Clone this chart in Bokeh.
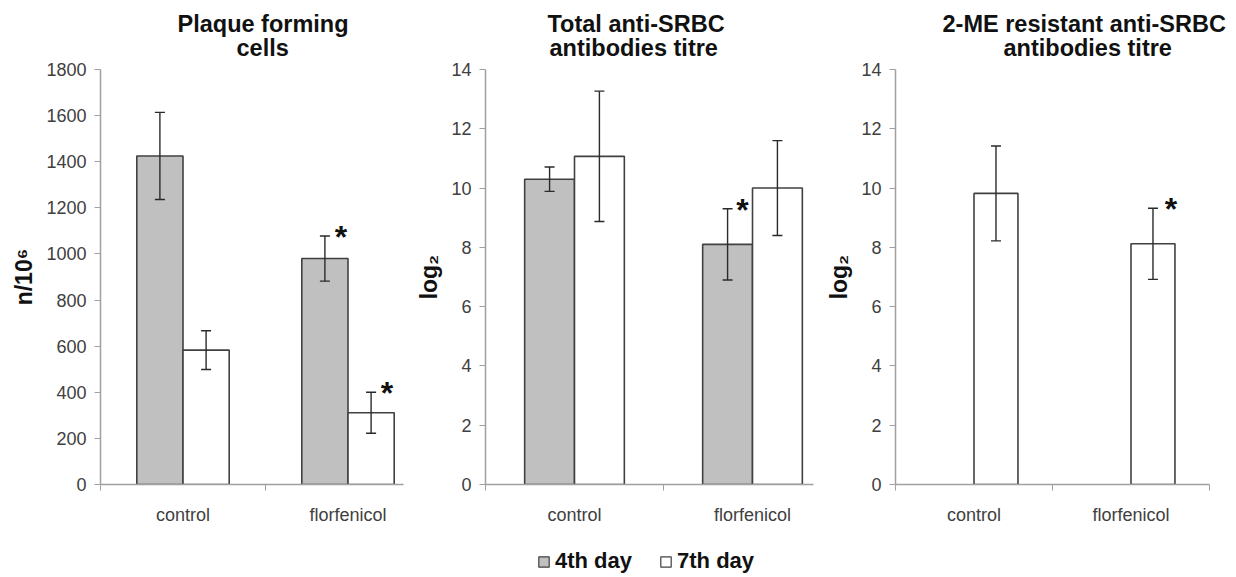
from bokeh.plotting import figure
from bokeh.models import (ColumnDataSource, Whisker, TeeHead, FixedTicker, Range1d,
                          Title, Legend, LegendItem)
from bokeh.layouts import row, column
from bokeh.core.properties import value
from bokeh.embed import file_html
from bokeh.resources import INLINE

# ---------------- data ----------------
groups = ["control", "florfenicol"]
series_names = ["4th day", "7th day"]

pfc_day4 = [1425, 980]
pfc_day4_err = [189, 98]
pfc_day7 = [583, 311]
pfc_day7_err = [84, 89]
pfc_day4_sig = [False, True]
pfc_day7_sig = [False, True]

total_day4 = [10.3, 8.1]
total_day4_err = [0.41, 1.2]
total_day7 = [11.07, 10.0]
total_day7_err = [2.2, 1.6]
total_day4_sig = [False, True]
total_day7_sig = [False, False]

me_day7 = [9.82, 8.12]
me_day7_err = [1.6, 1.2]
me_day7_sig = [False, True]

pfc_ticks = [0, 200, 400, 600, 800, 1000, 1200, 1400, 1600, 1800]
log_ticks = [0, 2, 4, 6, 8, 10, 12, 14]

titles = [["Plaque forming", "cells"],
          ["Total anti-SRBC", "antibodies titre"],
          ["2-ME resistant anti-SRBC", "antibodies titre"]]
ylabels = ["n/10⁶", "log₂", "log₂"]

FONT = "Liberation Sans"
GRAY_FILL = "#c0c0c0"
EDGE = "#404040"
AXIS = "#a0a0a0"
TXT = "#404040"

centers = [0.5, 1.5]
BAR_W = 0.28
OFFS = {"4th day": -0.14, "7th day": 0.14}
COLORS = {"4th day": GRAY_FILL, "7th day": "white"}


def make_panel(title_lines, title_offsets, ylabel, yend, yticks, x_end, series,
               left, fwidth, right, star_dx):
    p = figure(output_backend="svg", toolbar_location=None,
               frame_width=fwidth, frame_height=415,
               min_border_left=left, min_border_right=right,
               min_border_top=69, min_border_bottom=45,
               x_range=Range1d(0, x_end), y_range=Range1d(0, yend),
               background_fill_color="white", border_fill_color="white")
    p.outline_line_color = None
    p.grid.visible = False
    # two title lines, each placed on its own; first added is nearest the frame
    for line, off, sto in [(title_lines[1], title_offsets[1], 17),
                           (title_lines[0], title_offsets[0], -24)]:
        p.add_layout(Title(text=line, align="left", offset=off, text_font=FONT,
                           text_font_size="23.5px", text_font_style="bold",
                           text_color="#111111", standoff=sto), "above")

    # x axis
    xa = p.xaxis[0]
    xa.ticker = FixedTicker(ticks=centers, minor_ticks=[0, 1, 2])
    xa.major_label_overrides = {0.5: groups[0], 1.5: groups[1]}
    xa.major_tick_out = 0
    xa.major_tick_in = 0
    xa.minor_tick_out = 6
    xa.minor_tick_in = 0
    xa.minor_tick_line_color = AXIS
    xa.axis_line_color = AXIS
    xa.axis_line_width = 1.5
    xa.major_label_standoff = 14
    xa.major_label_text_font = FONT
    xa.major_label_text_font_size = "18px"
    xa.major_label_text_color = TXT

    # y axis
    ya = p.yaxis[0]
    ya.ticker = FixedTicker(ticks=yticks)
    ya.minor_tick_line_color = None
    ya.major_tick_out = 6
    ya.major_tick_in = 0
    ya.major_tick_line_color = AXIS
    ya.axis_line_color = AXIS
    ya.axis_line_width = 1.5
    ya.major_label_standoff = 8
    ya.major_label_text_font = FONT
    ya.major_label_text_font_size = "18px"
    ya.major_label_text_color = TXT
    ya.axis_label = ylabel
    ya.axis_label_text_font = FONT
    ya.axis_label_text_font_size = "23px"
    ya.axis_label_text_font_style = "bold"
    ya.axis_label_text_color = "#111111"
    ya.axis_label_standoff = 6

    renderers = {}
    for name, vals, errs, sig in series:
        xs = [c + OFFS[name] for c in centers]
        src = ColumnDataSource(dict(x=xs, top=vals,
                                    upper=[v + e for v, e in zip(vals, errs)],
                                    lower=[v - e for v, e in zip(vals, errs)]))
        r = p.vbar(x="x", top="top", width=BAR_W, bottom=0, source=src,
                   fill_color=COLORS[name], line_color=EDGE, line_width=1.6)
        renderers[name] = r
        w = Whisker(source=src, base="x", upper="upper", lower="lower", level="annotation",
                    line_color="#2a2a2a", line_width=1.4,
                    upper_head=TeeHead(size=10, line_color="#2a2a2a", line_width=1.4),
                    lower_head=TeeHead(size=10, line_color="#2a2a2a", line_width=1.4))
        p.add_layout(w)
        sx = [x for x, s in zip(xs, sig) if s]
        sy = [v + e for v, e, s in zip(vals, errs, sig) if s]
        if sx:
            ssrc = ColumnDataSource(dict(x=sx, y=sy, t=["*"] * len(sx)))
            p.text(x="x", y="y", text="t", source=ssrc, x_offset=star_dx, y_offset=1,
                   text_font=value(FONT), text_font_style="bold",
                   text_font_size="32px", text_color="#111111",
                   text_align="center", text_baseline="alphabetic")
    return p, renderers


p1, r1 = make_panel(titles[0], [77, 136], ylabels[0], 1800, pfc_ticks, 303 / 165.0,
                    [("4th day", pfc_day4, pfc_day4_err, pfc_day4_sig),
                     ("7th day", pfc_day7, pfc_day7_err, pfc_day7_sig)],
                    left=100, fwidth=303, right=10, star_dx=16)

p2, r2 = make_panel(titles[1], [62, 64], ylabels[1], 14, log_ticks, 328 / 178.0,
                    [("4th day", total_day4, total_day4_err, total_day4_sig),
                     ("7th day", total_day7, total_day7_err, total_day7_sig)],
                    left=70, fwidth=328, right=10, star_dx=15)

p3, r3 = make_panel(titles[2], [47, 108], ylabels[2], 14, log_ticks, 2.0,
                    [("7th day", me_day7, me_day7_err, me_day7_sig)],
                    left=70, fwidth=314, right=26, star_dx=18)

# legend strip below the three panels (swatch renderers are hidden, legend still draws them)
pl = figure(output_backend="svg", toolbar_location=None, width=1220, height=46,
            x_range=Range1d(0, 1), y_range=Range1d(0, 1),
            x_axis_location=None, y_axis_location=None,
            min_border_left=0, min_border_right=0, min_border_top=0, min_border_bottom=0,
            background_fill_color="white", border_fill_color="white")
pl.outline_line_color = None
pl.grid.visible = False
lr4 = pl.vbar(x=[0.5], top=[1], width=0.1, fill_color=COLORS["4th day"],
              line_color=EDGE, line_width=1.2, visible=False)
lr7 = pl.vbar(x=[0.5], top=[1], width=0.1, fill_color=COLORS["7th day"],
              line_color=EDGE, line_width=1.2, visible=False)
legend = Legend(items=[LegendItem(label=series_names[0], renderers=[lr4]),
                       LegendItem(label=series_names[1], renderers=[lr7])],
                orientation="horizontal", location=(537, 1),
                glyph_width=13, glyph_height=13, label_standoff=5, spacing=27,
                label_text_font=FONT, label_text_font_size="22px",
                label_text_font_style="bold", label_text_color="#111111",
                border_line_color=None, background_fill_alpha=0,
                inactive_fill_alpha=0, padding=0, margin=0)
pl.add_layout(legend)

layout = column(row(p1, p2, p3), pl)
open("out.html", "w").write(file_html(layout, INLINE))
